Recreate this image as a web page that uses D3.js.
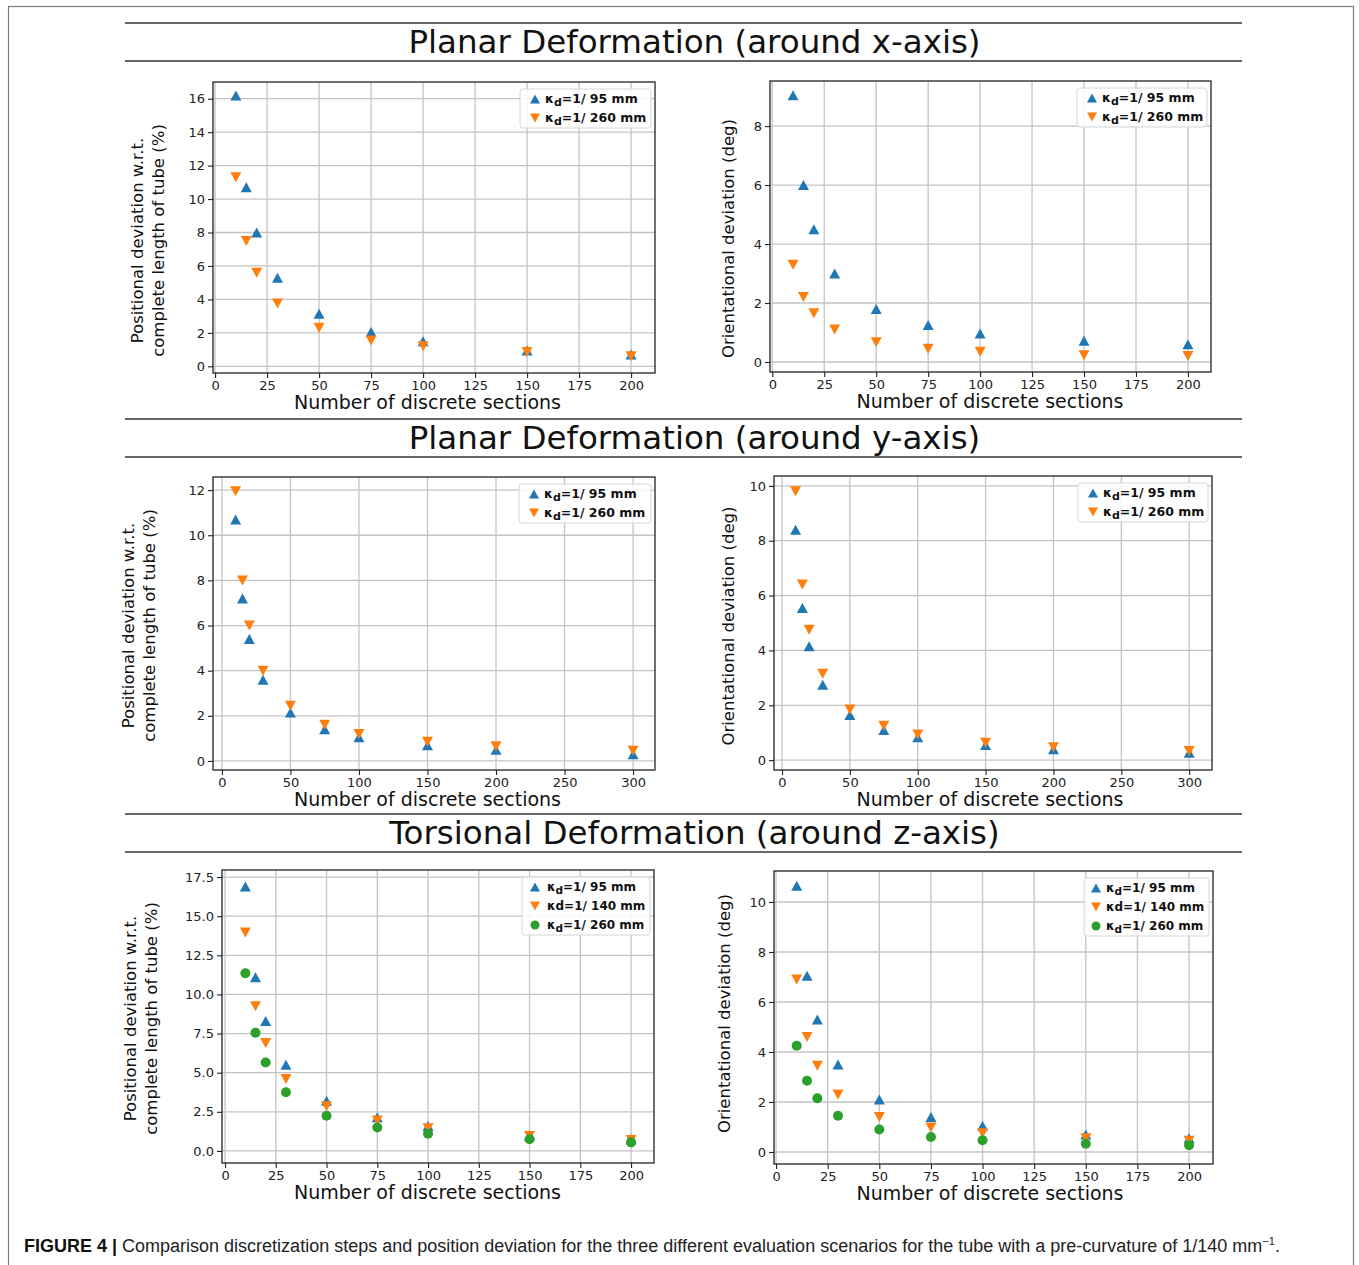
<!DOCTYPE html>
<html>
<head>
<meta charset="utf-8">
<script src="https://cdn.jsdelivr.net/npm/d3@7"></script>
<style>
  body { margin: 0; background: #fff; }
  svg { display: block; }
</style>
</head>
<body>
<div id="container"></div>
<script>
// discretisation steps
const sections200 = [10, 15, 20, 30, 50, 75, 100, 150, 200];
const sections300 = [10, 15, 20, 30, 50, 75, 100, 150, 200, 300];

// planar deformation around x-axis
const pxPos95  = [16.2, 10.7, 8.0, 5.3, 3.15, 2.05, 1.5, 0.95, 0.7];
const pxPos260 = [11.3, 7.5, 5.6, 3.75, 2.3, 1.55, 1.2, 0.85, 0.6];
const pxOri95  = [9.05, 6.0, 4.5, 3.0, 1.8, 1.25, 0.97, 0.72, 0.6];
const pxOri260 = [3.3, 2.2, 1.65, 1.1, 0.67, 0.45, 0.35, 0.23, 0.2];

// planar deformation around y-axis
const pyPos95  = [10.7, 7.2, 5.4, 3.6, 2.15, 1.4, 1.05, 0.7, 0.5, 0.3];
const pyPos260 = [11.95, 8.0, 6.0, 4.0, 2.45, 1.6, 1.2, 0.85, 0.65, 0.45];
const pyOri95  = [8.4, 5.55, 4.15, 2.75, 1.65, 1.1, 0.83, 0.55, 0.4, 0.27];
const pyOri260 = [9.8, 6.4, 4.75, 3.15, 1.85, 1.25, 0.93, 0.63, 0.47, 0.33];

// torsional deformation around z-axis
const tzPos95  = [16.9, 11.1, 8.3, 5.5, 3.2, 2.15, 1.6, 1.0, 0.75];
const tzPos140 = [13.95, 9.25, 6.9, 4.6, 2.85, 1.95, 1.45, 0.95, 0.7];
const tzPos260 = [11.35, 7.55, 5.65, 3.75, 2.25, 1.5, 1.1, 0.75, 0.55];
const tzOri95  = [10.65, 7.05, 5.3, 3.5, 2.1, 1.4, 1.05, 0.7, 0.55];
const tzOri140 = [6.9, 4.6, 3.45, 2.3, 1.4, 0.98, 0.75, 0.55, 0.45];
const tzOri260 = [4.25, 2.85, 2.15, 1.45, 0.9, 0.6, 0.47, 0.33, 0.27];

// tick labels
const xTicks200 = [0, 25, 50, 75, 100, 125, 150, 175, 200];
const xTicks300 = [0, 50, 100, 150, 200, 250, 300];
const yTicksPos16 = [0, 2, 4, 6, 8, 10, 12, 14, 16];
const yTicksOri8 = [0, 2, 4, 6, 8];
const yTicksPos12 = [0, 2, 4, 6, 8, 10, 12];
const yTicksOri10 = [0, 2, 4, 6, 8, 10];
const yTicksPos175 = [0, 2.5, 5, 7.5, 10, 12.5, 15, 17.5];

const sectionTitles = [
  "Planar Deformation (around x-axis)",
  "Planar Deformation (around y-axis)",
  "Torsional Deformation (around z-axis)"
];
const xLabel = "Number of discrete sections";
const posLabel = ["Positional deviation w.r.t.", "complete length of tube (%)"];
const oriLabel = ["Orientational deviation (deg)"];

const BLUE = "#1f77b4", ORANGE = "#ff7f0e", GREEN = "#2ca02c";
const FONT = "'DejaVu Sans', sans-serif";

const W = 1359, H = 1265;
const svg = d3.select("#container").append("svg")
  .attr("width", W).attr("height", H)
  .style("font-family", FONT);

// outer frame
svg.append("rect")
  .attr("x", 8.5).attr("y", 6.5).attr("width", 1345).attr("height", 1264)
  .attr("fill", "none").attr("stroke", "#7a7a7a").attr("stroke-width", 1.2);

// section headers
const headerTops = [23, 419, 814];
sectionTitles.forEach((t, i) => {
  const y0 = headerTops[i];
  [y0, y0 + 38].forEach(yy => {
    svg.append("line")
      .attr("x1", 125).attr("x2", 1242).attr("y1", yy).attr("y2", yy)
      .attr("stroke", "#333").attr("stroke-width", 1.5);
  });
  svg.append("text")
    .attr("x", 694.5).attr("y", y0 + 30)
    .attr("text-anchor", "middle")
    .style("font-size", "32.5px")
    .attr("fill", "#111")
    .text(t);
});

function markerPath(shape, s) {
  if (shape === "up") return `M0,${-s / 2}L${s / 2 + 0.5},${s / 2}L${-s / 2 - 0.5},${s / 2}Z`;
  if (shape === "down") return `M0,${s / 2}L${s / 2 + 0.5},${-s / 2}L${-s / 2 - 0.5},${-s / 2}Z`;
  return d3.symbol(d3.symbolCircle, Math.PI * (s / 2) * (s / 2))();
}

function drawPanel(cfg) {
  const g = svg.append("g");
  const x = d3.scaleLinear().domain(cfg.xDomain).range([cfg.left, cfg.right]);
  const y = d3.scaleLinear().domain(cfg.yDomain).range([cfg.bottom, cfg.top]);

  // grid
  g.selectAll(".gx").data(cfg.xTicks).join("line")
    .attr("x1", d => x(d)).attr("x2", d => x(d))
    .attr("y1", cfg.top).attr("y2", cfg.bottom)
    .attr("stroke", "#c4c4c4").attr("stroke-width", 1.3);
  g.selectAll(".gy").data(cfg.yTicks).join("line")
    .attr("x1", cfg.left).attr("x2", cfg.right)
    .attr("y1", d => y(d)).attr("y2", d => y(d))
    .attr("stroke", "#c4c4c4").attr("stroke-width", 1.3);

  // axes
  const xa = g.append("g")
    .attr("transform", `translate(0,${cfg.bottom})`)
    .call(d3.axisBottom(x).tickValues(cfg.xTicks).tickSize(5).tickPadding(3).tickFormat(d3.format("d")));
  const ya = g.append("g")
    .attr("transform", `translate(${cfg.left},0)`)
    .call(d3.axisLeft(y).tickValues(cfg.yTicks).tickSize(5).tickPadding(3).tickFormat(cfg.yFormat));
  [xa, ya].forEach(a => {
    a.select(".domain").remove();
    a.selectAll("line").attr("stroke", "#222").attr("stroke-width", 1.1);
    a.selectAll("text").style("font-family", FONT).style("font-size", "13px").attr("fill", "#222");
  });

  // spines
  g.append("rect")
    .attr("x", cfg.left).attr("y", cfg.top)
    .attr("width", cfg.right - cfg.left).attr("height", cfg.bottom - cfg.top)
    .attr("fill", "none").attr("stroke", "#222").attr("stroke-width", 1.3);

  // points
  cfg.series.forEach(s => {
    g.selectAll(null).data(s.values).join("path")
      .attr("d", markerPath(s.shape, 10))
      .attr("transform", (d, i) => `translate(${x(cfg.xs[i])},${y(d)})`)
      .attr("fill", s.color);
  });

  // axis labels
  g.append("text")
    .attr("x", cfg.xLabelX).attr("y", cfg.bottom + 36)
    .attr("text-anchor", "middle")
    .style("font-size", "19px").attr("fill", "#111")
    .text(xLabel);
  const cy = (cfg.top + cfg.bottom) / 2 + cfg.yLabelShift;
  cfg.yLabel.forEach((line, i) => {
    g.append("text")
      .attr("transform", `translate(${cfg.yLabelX[i]},${cy}) rotate(-90)`)
      .attr("text-anchor", "middle")
      .attr("dominant-baseline", "central")
      .style("font-size", "16.5px").attr("fill", "#111")
      .text(line);
  });

  // legend
  const n = cfg.series.length;
  const lw = cfg.legendW, lh = 19 * n + 1;
  const lx = cfg.right - 4 - lw, ly = cfg.top + 7;
  const lg = g.append("g").attr("transform", `translate(${lx},${ly})`);
  lg.append("rect")
    .attr("width", lw).attr("height", lh).attr("rx", 3)
    .attr("fill", "white").attr("fill-opacity", 0.85)
    .attr("stroke", "#d6d6d6").attr("stroke-width", 1);
  cfg.series.forEach((s, i) => {
    const row = lg.append("g").attr("transform", `translate(0,${9 + i * 19})`);
    row.append("path")
      .attr("d", markerPath(s.shape, 9))
      .attr("transform", `translate(${cfg.legendMarkX},1)`)
      .attr("fill", s.color);
    const t = row.append("text")
      .attr("x", cfg.legendTextX).attr("y", 5)
      .style("font-size", cfg.legendFont + "px").style("font-weight", "bold").attr("fill", "#111");
    t.append("tspan").text("\u03BA");
    if (s.sub) {
      t.append("tspan").attr("dy", 3).style("font-size", (cfg.legendFont - 1.5) + "px").text("d");
      t.append("tspan").attr("dy", -3).text("=1/ " + s.name + " mm");
    } else {
      t.append("tspan").text("d=1/ " + s.name + " mm");
    }
  });
}

const fmtInt = d3.format("d");
const fmt1 = d3.format(".1f");

drawPanel({
  left: 213, right: 655, top: 82, bottom: 373,
  xDomain: [-1, 211.5], yDomain: [-0.4, 17.0],
  xTicks: xTicks200, yTicks: yTicksPos16, yFormat: fmtInt,
  xs: sections200, yLabel: posLabel, yLabelX: [137, 158], yLabelShift: 13, xLabelX: 427.5,
  legendW: 131, legendMarkX: 15, legendTextX: 25, legendFont: 12.5,
  series: [
    { name: "95", values: pxPos95, color: BLUE, shape: "up", sub: true },
    { name: "260", values: pxPos260, color: ORANGE, shape: "down", sub: true }
  ]
});
drawPanel({
  left: 770, right: 1211, top: 81, bottom: 372,
  xDomain: [-1.1, 211.1], yDomain: [-0.34, 9.53],
  xTicks: xTicks200, yTicks: yTicksOri8, yFormat: fmtInt,
  xs: sections200, yLabel: oriLabel, yLabelX: [728], yLabelShift: 12, xLabelX: 990,
  legendW: 130, legendMarkX: 15, legendTextX: 25, legendFont: 12.5,
  series: [
    { name: "95", values: pxOri95, color: BLUE, shape: "up", sub: true },
    { name: "260", values: pxOri260, color: ORANGE, shape: "down", sub: true }
  ]
});
drawPanel({
  left: 213, right: 655, top: 477, bottom: 770,
  xDomain: [-6.5, 316], yDomain: [-0.4, 12.58],
  xTicks: xTicks300, yTicks: yTicksPos12, yFormat: fmtInt,
  xs: sections300, yLabel: posLabel, yLabelX: [128, 149], yLabelShift: 2, xLabelX: 427.5,
  legendW: 132, legendMarkX: 15, legendTextX: 25, legendFont: 12.5,
  series: [
    { name: "95", values: pyPos95, color: BLUE, shape: "up", sub: true },
    { name: "260", values: pyPos260, color: ORANGE, shape: "down", sub: true }
  ]
});
drawPanel({
  left: 774, right: 1212, top: 476, bottom: 770,
  xDomain: [-5.9, 316.8], yDomain: [-0.36, 10.36],
  xTicks: xTicks300, yTicks: yTicksOri10, yFormat: fmtInt,
  xs: sections300, yLabel: oriLabel, yLabelX: [728], yLabelShift: 3, xLabelX: 990,
  legendW: 130, legendMarkX: 15, legendTextX: 25, legendFont: 12.5,
  series: [
    { name: "95", values: pyOri95, color: BLUE, shape: "up", sub: true },
    { name: "260", values: pyOri260, color: ORANGE, shape: "down", sub: true }
  ]
});
drawPanel({
  left: 222, right: 654, top: 870, bottom: 1163,
  xDomain: [-1.5, 211.3], yDomain: [-0.77, 17.95],
  xTicks: xTicks200, yTicks: yTicksPos175, yFormat: fmt1,
  xs: sections200, yLabel: posLabel, yLabelX: [130, 151], yLabelShift: 2, xLabelX: 427.5,
  legendW: 128, legendMarkX: 13, legendTextX: 25, legendFont: 12,
  series: [
    { name: "95", values: tzPos95, color: BLUE, shape: "up", sub: true },
    { name: "140", values: tzPos140, color: ORANGE, shape: "down", sub: false },
    { name: "260", values: tzPos260, color: GREEN, shape: "circle", sub: true }
  ]
});
drawPanel({
  left: 774, right: 1213, top: 871, bottom: 1164,
  xDomain: [-1, 211.6], yDomain: [-0.48, 11.24],
  xTicks: xTicks200, yTicks: yTicksOri10, yFormat: fmtInt,
  xs: sections200, yLabel: oriLabel, yLabelX: [724], yLabelShift: -4, xLabelX: 990,
  legendW: 125, legendMarkX: 12, legendTextX: 22, legendFont: 12,
  series: [
    { name: "95", values: tzOri95, color: BLUE, shape: "up", sub: true },
    { name: "140", values: tzOri140, color: ORANGE, shape: "down", sub: false },
    { name: "260", values: tzOri260, color: GREEN, shape: "circle", sub: true }
  ]
});

// caption
const cap = svg.append("text")
  .attr("x", 24).attr("y", 1252)
  .style("font-family", "'Liberation Sans', Arial, sans-serif")
  .style("font-size", "18px").attr("fill", "#222");
cap.append("tspan").style("font-weight", "bold").attr("fill", "#111").text("FIGURE 4 | ");
cap.append("tspan").text("Comparison discretization steps and position deviation for the three different evaluation scenarios for the tube with a pre-curvature of 1/140 mm");
cap.append("tspan").attr("dy", -7).style("font-size", "11px").text("\u22121");
cap.append("tspan").attr("dy", 7).text(".");
</script>
</body>
</html>
